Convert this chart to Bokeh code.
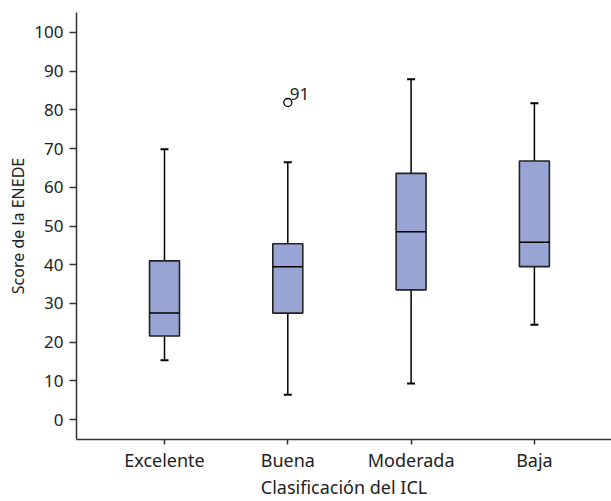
from bokeh.plotting import figure
from bokeh.models import ColumnDataSource, FixedTicker, Range1d
from bokeh.embed import file_html
from bokeh.resources import INLINE

# ---- data ----
categories = ["Excelente", "Buena", "Moderada", "Baja"]
positions = [1, 2, 3, 4]
lower_whisker = [15.3, 6.4, 9.3, 24.5]
q1 = [21.6, 27.5, 33.5, 39.5]
median = [27.5, 39.5, 48.5, 45.8]
q3 = [41.0, 45.4, 63.6, 66.8]
upper_whisker = [69.8, 66.5, 87.9, 81.7]
outlier_pos = [2]
outlier_val = [81.9]
outlier_label = ["91"]
y_ticks = [0, 10, 20, 30, 40, 50, 60, 70, 80, 90, 100]

FONT = "Noto Sans"
BOX_W = 0.243
CAP_W = 0.065

W, H = 611, 501
BL, BB, BT, BR = 76, 61, 12, 0

src = ColumnDataSource(data=dict(
    x=positions,
    left=[p - BOX_W / 2 for p in positions],
    right=[p + BOX_W / 2 for p in positions],
    capl=[p - CAP_W / 2 for p in positions],
    capr=[p + CAP_W / 2 for p in positions],
    lw=lower_whisker, q1=q1, med=median, q3=q3, uw=upper_whisker,
))

# frame edges in picture pixels
fl, ft, fb = BL, BT, H - BB
px_x = 123.3   # px per category
px_y = 3.88    # px per score unit
x0 = 1 - (164 - fl) / px_x
x1 = x0 + (W - BL - BR) / px_x
y1 = (420 - ft) / px_y
y0 = -(fb - 420) / px_y

p = figure(width=W, height=H, output_backend="svg", toolbar_location=None, tools="",
           x_range=Range1d(x0, x1), y_range=Range1d(y0, y1),
           min_border_left=BL, min_border_right=BR, min_border_top=BT, min_border_bottom=BB)
p.outline_line_color = "white"
p.outline_line_width = 3
p.background_fill_color = "white"
p.border_fill_color = "white"
p.xgrid.visible = False
p.ygrid.visible = False

# whiskers
p.segment(x0="x", y0="q3", x1="x", y1="uw", source=src, line_color="black", line_width=1.5)
p.segment(x0="x", y0="lw", x1="x", y1="q1", source=src, line_color="black", line_width=1.5)
# caps
p.segment(x0="capl", y0="uw", x1="capr", y1="uw", source=src, line_color="black", line_width=2)
p.segment(x0="capl", y0="lw", x1="capr", y1="lw", source=src, line_color="black", line_width=2)
# boxes
p.quad(left="left", right="right", bottom="q1", top="q3", source=src,
       fill_color="#97a4d4", line_color="#222222", line_width=1.6)
# medians
p.segment(x0="left", y0="med", x1="right", y1="med", source=src, line_color="black", line_width=1.5)

# outliers
osrc = ColumnDataSource(data=dict(x=outlier_pos, y=outlier_val, t=outlier_label))
p.scatter(x="x", y="y", source=osrc, size=8, marker="circle",
          fill_color="white", line_color="black", line_width=1.3)
p.text(x="x", y="y", text="t", source=osrc, x_offset=2, y_offset=-9,
       text_font_size="17px", text_color="#222222", text_baseline="alphabetic",
       text_font={"value": FONT})

# axes
p.xaxis.ticker = FixedTicker(ticks=positions)
p.xaxis.major_label_overrides = {pos: c for pos, c in zip(positions, categories)}
p.yaxis.ticker = FixedTicker(ticks=y_ticks)
for ax in (p.xaxis[0], p.yaxis[0]):
    ax.axis_line_width = 1.5
    ax.axis_line_color = "#333333"
    ax.major_tick_line_color = "#333333"
    ax.major_tick_line_width = 1.5
    ax.major_tick_in = 0
    ax.minor_tick_line_color = None
    ax.major_label_text_font = FONT
    ax.major_label_text_color = "#222222"
    ax.axis_label_text_font = FONT
    ax.axis_label_text_font_style = "normal"
    ax.axis_label_text_color = "#222222"
p.xaxis.major_label_text_font_size = "18px"
p.yaxis.major_label_text_font_size = "17px"
p.xaxis.axis_label_text_font_size = "18px"
p.yaxis.axis_label_text_font_size = "16px"
p.xaxis.major_tick_out = 5
p.yaxis.major_tick_out = 7
p.xaxis.major_label_standoff = 3
p.yaxis.major_label_standoff = 6
p.xaxis.axis_label = "Clasificación del ICL"
p.yaxis.axis_label = "Score de la ENEDE"
p.xaxis.axis_label_standoff = 0
p.yaxis.axis_label_standoff = 2

open("out.html", "w").write(file_html(p, INLINE))
